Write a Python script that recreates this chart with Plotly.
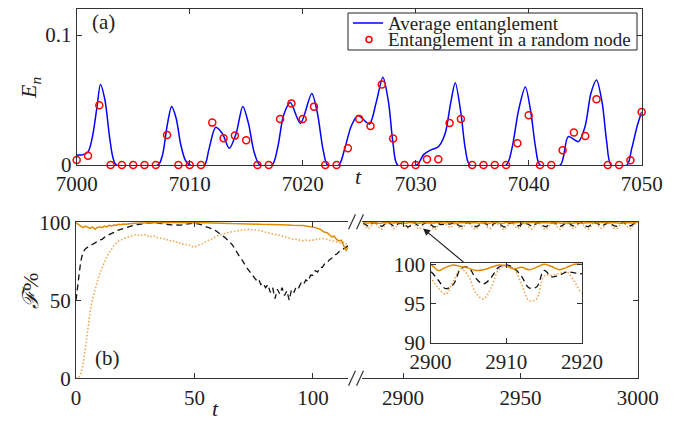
import plotly.graph_objects as go

# ---------------- Panel (a) data ----------------
t_avg = [7000, 7000.5, 7001, 7001.4, 7001.8, 7002.1, 7002.5, 7002.9, 7003.2, 7003.5,
         7007.2, 7007.6, 7008.0, 7008.4, 7008.8, 7009.2, 7009.6, 7010.0,
         7011.3, 7011.7, 7012.3, 7012.9, 7013.5, 7014.1, 7014.7, 7015.2, 7015.7, 7016.2,
         7017.3, 7017.8, 7018.3, 7018.9, 7019.8, 7020.8, 7021.3, 7021.8, 7022.2,
         7023.2, 7023.7, 7024.3, 7024.9, 7025.9, 7026.5, 7027.1, 7027.6, 7028.0, 7028.4,
         7030.1, 7030.7, 7031.3, 7032.0, 7032.6, 7033.1, 7033.5, 7034.0, 7034.4, 7034.8,
         7038.0, 7038.5, 7039.1, 7039.7, 7040.2, 7040.6, 7041.0,
         7042.8, 7043.5, 7044.4, 7045.0, 7045.5, 7046.0, 7046.5, 7046.9, 7047.3,
         7048.7, 7049.1, 7049.6, 7050]
e_avg = [0.0077, 0.0078, 0.010, 0.022, 0.045, 0.062, 0.050, 0.022, 0.006, 0.0,
         0.0, 0.008, 0.030, 0.045, 0.036, 0.016, 0.004, 0.0,
         0.0, 0.012, 0.029, 0.024, 0.0128, 0.024, 0.045, 0.032, 0.010, 0.0,
         0.0, 0.014, 0.038, 0.048, 0.032, 0.055, 0.040, 0.012, 0.0,
         0.0, 0.012, 0.030, 0.038, 0.0315, 0.048, 0.0675, 0.048, 0.016, 0.0,
         0.0, 0.008, 0.0115, 0.014, 0.024, 0.048, 0.0633, 0.040, 0.012, 0.0,
         0.0, 0.012, 0.042, 0.060, 0.040, 0.014, 0.0,
         0.0, 0.0218, 0.018, 0.030, 0.055, 0.0654, 0.048, 0.018, 0.0,
         0.0, 0.012, 0.030, 0.041]

t_node = list(range(7000, 7051))
e_node = [0.0038, 0.0072, 0.046, 0, 0, 0, 0, 0, 0.023, 0,
          0, 0, 0.0326, 0.0205, 0.0226, 0.019, 0, 0, 0.0354, 0.0474,
          0.0354, 0.0449, 0, 0, 0.0128, 0.0354, 0.030, 0.062, 0.0203, 0,
          0, 0.0044, 0.0044, 0.0323, 0.0354, 0, 0, 0, 0, 0.0167,
          0.0382, 0, 0, 0.0113, 0.025, 0.0223, 0.0505, 0, 0, 0.0036,
          0.0408]

legend_names = ["Average entanglement", "Entanglement in a random node"]

# ---------------- Panel (b) data, early times ----------------
t_left = list(range(0, 116))
f_solid_left = [99.5, 98.5, 97.5, 96.5, 97.5, 97, 96, 97, 95.5, 96.5,
                97, 96.5, 97.5, 97, 98, 97.5, 98.2, 98, 98.6, 98.3,
                98.8, 98.7, 99, 99.1, 99.2, 99.3, 99.4, 99.5, 99.6, 99.6,
                99.7, 99.7, 99.8, 99.8, 99.8, 99.7, 99.8, 99.8, 99.7, 99.8,
                99.8, 99.8, 99.7, 99.8, 99.8, 99.7, 99.7, 99.8, 99.7, 99.7,
                99.7, 99.7, 99.6, 99.6, 99.6, 99.6, 99.5, 99.5, 99.5, 99.4,
                99.4, 99.4, 99.3, 99.3, 99.2, 99.2, 99.1, 99.1, 99.0, 99.0,
                99.0, 98.9, 98.9, 98.8, 98.8, 98.8, 98.7, 98.7, 98.6, 98.6,
                98.6, 98.5, 98.5, 98.4, 98.4, 98.4, 98.3, 98.3, 98.2, 98.2,
                98.2, 98.1, 98.1, 98.0, 98.0, 98.0, 97.8, 97.6, 97.4, 97.2,
                97.0, 96.5, 96.0, 95.5, 94.5, 93.5, 93.2, 92.0, 90.5, 91.0,
                89.0, 88.0, 88.5, 85.0, 82.0, 84.0]
f_dash_left = [50, 64, 75, 81, 83, 84, 85, 86, 87, 88,
               88.5, 89, 90.5, 91.5, 92, 92.5, 93.5, 94.5, 95, 95.5,
               96, 96.5, 97, 97.5, 98, 98.2, 98.5, 98.8, 99, 99.2,
               99.4, 99.5, 99.6, 99.6, 99.5, 99.3, 99.0, 98.8, 98.7, 98.5,
               98.3, 98.2, 98.0, 98.0, 98.1, 98.3, 98.6, 98.9, 99.1, 99.3,
               99.3, 99.2, 98.8, 98.3, 97.5, 97, 96.5, 96, 95.5, 94.5,
               93.5, 92.5, 91.5, 90, 88.5, 87, 85.5, 83, 80, 78,
               76, 73, 71, 69, 67, 65, 63, 64, 60, 61,
               58, 60, 55, 58, 51, 57, 54, 58, 53, 56,
               50, 57, 55, 59, 58, 61, 60, 63, 62, 66,
               66, 69, 68, 71, 71, 73.5, 74, 76, 77, 79,
               79.5, 81, 82, 83, 84, 85]
f_dot_left = [0, 0, 3, 9, 20, 33, 43, 51, 57, 62,
              67, 71, 75, 78, 80.5, 83, 85, 86.5, 88, 88.5,
              89.5, 90, 90.5, 91, 91, 92, 91.5, 92, 91.5, 92,
              91, 91.5, 90.5, 91, 90, 90, 89.5, 89.5, 88.5, 89,
              88, 88, 87, 87.5, 86.5, 86, 85.5, 86, 85, 84.5,
              84, 85, 85.5, 86, 87, 87.5, 88.5, 89, 90, 90.5,
              91.5, 92, 92.5, 93, 93.5, 93.5, 94, 94, 94.5, 94.5,
              95, 95, 95, 95.5, 95, 95, 95, 94.5, 94.5, 94,
              93.5, 93.5, 93, 92.5, 92, 92, 91.5, 91, 90.5, 90.5,
              90, 89.5, 89, 89, 88.5, 88.5, 88, 88.5, 88, 88.5,
              88.5, 89, 89, 89.5, 89.5, 89.5, 89, 88.5, 88, 87.5,
              87.5, 87, 86.5, 87, 86, 86.5]

# ---------------- Panel (b) data, late times ----------------
t_right = list(range(2883, 3001))
f_solid_right = [99.8, 99.5, 99.3, 99.6, 99.9, 99.8, 99.4, 99.2, 99.5, 99.8,
                 100, 99.7, 99.3, 99.4, 99.7, 99.9, 100,
                 100, 99.2, 99.6, 99.9, 99.7, 99.5, 99.2, 99.3, 99.6, 99.9,
                 99.8, 99.4, 99.6, 99.3, 99.6, 100, 99.7, 99.3, 99.6, 100, 100,
                 99.8, 99.4, 99.3, 99.6, 99.9, 99.8, 99.4, 99.5, 99.8, 100,
                 99.7, 99.3, 99.5, 99.9, 99.8, 99.4, 99.3, 99.7, 100, 99.8,
                 99.4, 99.2, 99.5, 99.9, 99.8, 99.5, 99.3, 99.6, 99.9, 100,
                 99.7, 99.4, 99.4, 99.7, 100, 99.8, 99.4, 99.3, 99.6, 99.9,
                 99.8, 99.4, 99.5, 99.8, 100, 99.7, 99.3, 99.4, 99.8, 99.9,
                 99.6, 99.3, 99.5, 99.9, 99.9, 99.5, 99.3, 99.6, 99.9, 99.8,
                 99.5, 99.3, 99.6, 99.9, 100, 99.7, 99.4, 99.5, 99.8, 99.9,
                 99.6, 99.3, 99.5, 99.8, 100, 99.8, 99.4, 99.5, 99.8, 100]
f_dash_right = [99.5, 98.5, 97.5, 98, 99.5, 99.8, 99, 97.8, 97.2, 98.5,
                99.6, 99.7, 98.6, 97.4, 97.8, 99.2, 99.6,
                99.1, 98.0, 96.9, 97.4, 99.4, 99.6, 98.2, 97.5, 98.3, 99.6,
                99.9, 99.5, 98.5, 97.0, 97.1, 99.2, 98.4, 98.6, 99.0, 98.9, 98.8,
                99.3, 99.7, 98.8, 97.6, 97.3, 98.6, 99.6, 99.8, 99.0, 97.9,
                97.1, 97.6, 99.1, 99.7, 99.4, 98.2, 97.5, 98.0, 99.4, 99.8,
                99.2, 97.8, 96.9, 97.5, 99.0, 99.7, 99.5, 98.4, 97.6, 98.1,
                99.5, 99.8, 98.9, 97.7, 97.2, 98.3, 99.5, 99.7, 98.7, 97.4,
                97.0, 98.2, 99.4, 99.8, 99.3, 98.0, 97.3, 97.9, 99.3, 99.7,
                99.1, 97.9, 97.4, 98.5, 99.6, 99.8, 98.8, 97.5, 97.1, 98.4,
                99.5, 99.7, 99.0, 97.8, 97.5, 98.6, 99.6, 99.7, 98.6, 97.6,
                97.3, 98.5, 99.5, 99.8, 99.1, 97.9, 97.6, 98.7, 99.5, 99.7]
f_dot_right = [98.5, 97, 95.8, 96.5, 98.8, 99.5, 98, 96.2, 95.5, 97.5,
               99.3, 99.4, 97.6, 95.9, 96.5, 98.8, 99.3,
               98.3, 97.0, 96.2, 97.8, 99.4, 98.5, 96.3, 95.6, 97.0, 99.3,
               99.8, 99.4, 97.5, 95.4, 95.6, 98.5, 98.6, 98.8, 99.0, 97.8, 96.4,
               97.5, 99.2, 98.4, 96.3, 95.7, 97.4, 99.3, 99.6, 98.0, 96.1,
               95.4, 96.8, 98.9, 99.4, 98.6, 96.7, 95.8, 97.0, 99.0, 99.5,
               98.3, 96.2, 95.2, 96.5, 98.7, 99.4, 98.8, 96.9, 95.9, 97.3,
               99.1, 99.5, 98.1, 96.2, 95.6, 97.2, 99.0, 99.4, 97.8, 95.9,
               95.3, 97.1, 98.9, 99.5, 98.4, 96.4, 95.7, 96.9, 98.9, 99.4,
               98.2, 96.3, 95.8, 97.6, 99.2, 99.5, 97.9, 96.0, 95.4, 97.3,
               99.1, 99.4, 98.2, 96.2, 95.9, 97.5, 99.2, 99.4, 97.6, 96.1,
               95.7, 97.4, 99.0, 99.5, 98.3, 96.3, 95.9, 97.6, 99.1, 99.4]

# tick labels
ticks_a_x = [7000, 7010, 7020, 7030, 7040, 7050]
ticks_a_y = [0, 0.1]
ticktext_a_y = ["0", "0.1"]
ticks_b_left = [0, 50, 100]
ticks_b_right = [2900, 2950, 3000]
ticks_b_y = [0, 50, 100]
ticks_in_x = [2900, 2910, 2920]
ticks_in_y = [90, 95, 100]

# ---------------- style ----------------
PAGE_W, PAGE_H = 693, 423
OFF = 8  # the html page body has an 8px margin
W, H = PAGE_W - OFF, PAGE_H - OFF
FONT = "Liberation Serif"
AX = "#333333"
TXT = "#222222"
ORANGE = "#e08a00"
ORANGE_L = "#f3a650"
BLUE = "#0000ff"
RED = "#ff0000"


def px(x):
    return (x - OFF) / W


def py(y):
    return 1 - (y - OFF) / H


fig = go.Figure()

# panel (a)
fig.add_trace(go.Scatter(x=t_avg, y=e_avg, mode="lines", name=legend_names[0],
                         line=dict(color=BLUE, width=1.5, shape="spline", smoothing=0.8),
                         xaxis="x", yaxis="y"))
fig.add_trace(go.Scatter(x=t_node, y=e_node, mode="markers", name=legend_names[1],
                         marker=dict(symbol="circle-open", color=RED, size=7, line=dict(width=1.5, color=RED)),
                         cliponaxis=False, xaxis="x", yaxis="y"))


def add_three(tx, solid, dash, dot, xa, ya, shape="linear"):
    fig.add_trace(go.Scatter(x=tx, y=dot, mode="lines", showlegend=False,
                             line=dict(color=ORANGE_L, width=1.6, dash="1.5px,2px", shape=shape),
                             xaxis=xa, yaxis=ya))
    fig.add_trace(go.Scatter(x=tx, y=dash, mode="lines", showlegend=False,
                             line=dict(color="#111111", width=1.3, dash="6px,4px", shape=shape),
                             xaxis=xa, yaxis=ya))
    fig.add_trace(go.Scatter(x=tx, y=solid, mode="lines", showlegend=False,
                             line=dict(color=ORANGE, width=1.5, shape=shape),
                             xaxis=xa, yaxis=ya))


add_three(t_left, f_solid_left, f_dash_left, f_dot_left, "x2", "y2")
add_three(t_right, f_solid_right, f_dash_right, f_dot_right, "x3", "y3")
add_three(t_right, f_solid_right, f_dash_right, f_dot_right, "x4", "y4", shape="spline")

tickfont = dict(family=FONT, size=21, color=TXT)
common = dict(showline=True, linecolor=AX, linewidth=1.2, ticks="inside", ticklen=5,
              tickcolor=AX, tickwidth=1, showgrid=False, zeroline=False, tickfont=tickfont,
              automargin=False)

fig.update_layout(
    template="none",
    width=W, height=H, autosize=False,
    margin=dict(l=0, r=0, t=0, b=0, pad=0),
    paper_bgcolor="white", plot_bgcolor="white",
    font=dict(family=FONT, size=20, color=TXT),
    showlegend=False,
    xaxis=dict(domain=[px(76.7), px(641.7)], range=[7000, 7050], tickvals=ticks_a_x,
               mirror="ticks", anchor="y", **common),
    yaxis=dict(domain=[py(165), py(9)], range=[0, 0.12], tickvals=ticks_a_y, ticktext=ticktext_a_y,
               mirror="ticks", anchor="x", **common),
    xaxis2=dict(domain=[px(76), px(348)], range=[0, 114.8], tickvals=ticks_b_left,
                mirror="ticks", anchor="y2", **common),
    yaxis2=dict(domain=[py(378.3), py(221.7)], range=[0, 100.3], tickvals=ticks_b_y,
                mirror=False, anchor="x2", **common),
    xaxis3=dict(domain=[px(362), px(637.7)], range=[2882.5, 3000], tickvals=ticks_b_right,
                mirror="ticks", anchor="y3", **common),
    yaxis3=dict(domain=[py(378.3), py(221.7)], range=[0, 100.3], tickvals=ticks_b_y,
                side="right", showticklabels=False, mirror=False, anchor="x3", **common),
    xaxis4=dict(domain=[px(430.5), px(582)], range=[2900, 2920], tickvals=ticks_in_x,
                mirror="ticks", anchor="y4", **common),
    yaxis4=dict(domain=[py(343), py(263)], range=[90, 100.15], tickvals=ticks_in_y,
                mirror="ticks", anchor="x4", **common),
)

# ---- legend box (drawn as decoration, compact like the original) ----
fig.add_shape(type="rect", xref="paper", yref="paper", x0=px(348), x1=px(637), y0=py(50), y1=py(13),
              line=dict(color=TXT, width=1), fillcolor="white", layer="above")
fig.add_shape(type="line", xref="paper", yref="paper", x0=px(353), x1=px(383), y0=py(23), y1=py(23),
              line=dict(color=BLUE, width=1.5), layer="above")
fig.add_shape(type="circle", xref="paper", yref="paper", x0=px(366), x1=px(372), y0=py(42.5), y1=py(36.5),
              line=dict(color=RED, width=1.5), layer="above")
for name, yl in zip(legend_names, (23, 39.5)):
    fig.add_annotation(xref="paper", yref="paper", x=px(386), y=py(yl), xanchor="left", yanchor="middle",
                       showarrow=False, text=name, font=dict(family=FONT, size=19, color=TXT))

annots = [
    dict(text="(a)", x=px(103), y=py(22), font=dict(family=FONT, size=21, color=TXT)),
    dict(text="(b)", x=px(108), y=py(358), font=dict(family=FONT, size=21, color=TXT)),
    dict(text="<i>t</i>", x=px(358), y=py(176), font=dict(family=FONT, size=22, color=TXT)),
    dict(text="<i>t</i>", x=px(215), y=py(408), font=dict(family=FONT, size=22, color=TXT)),
    dict(text="<i>E<sub>n</sub></i>", x=px(30), y=py(88), textangle=-90,
         font=dict(family=FONT, size=22, color=TXT)),
    dict(text="<i>ℱ</i>%", x=px(30), y=py(291), textangle=-90,
         font=dict(family=FONT, size=22, color=TXT)),
]
for a in annots:
    fig.add_annotation(xref="paper", yref="paper", showarrow=False, xanchor="center", yanchor="middle", **a)

# arrow from inset to main late-time panel
fig.add_annotation(x=2908.5, y=96, xref="x3", yref="y3", ax=42, ay=35, axref="pixel", ayref="pixel",
                   showarrow=True, arrowhead=2, arrowsize=1.2, arrowwidth=1.2, arrowcolor=TXT, text="")

# axis break marks
for yb in (221.7, 378.3):
    for xb in (352, 360):
        fig.add_shape(type="line", xref="paper", yref="paper",
                      x0=px(xb - 3.5), y0=py(yb + 7.5), x1=px(xb + 3.5), y1=py(yb - 7.5),
                      line=dict(color=AX, width=1.2))

fig.write_html("out.html")
